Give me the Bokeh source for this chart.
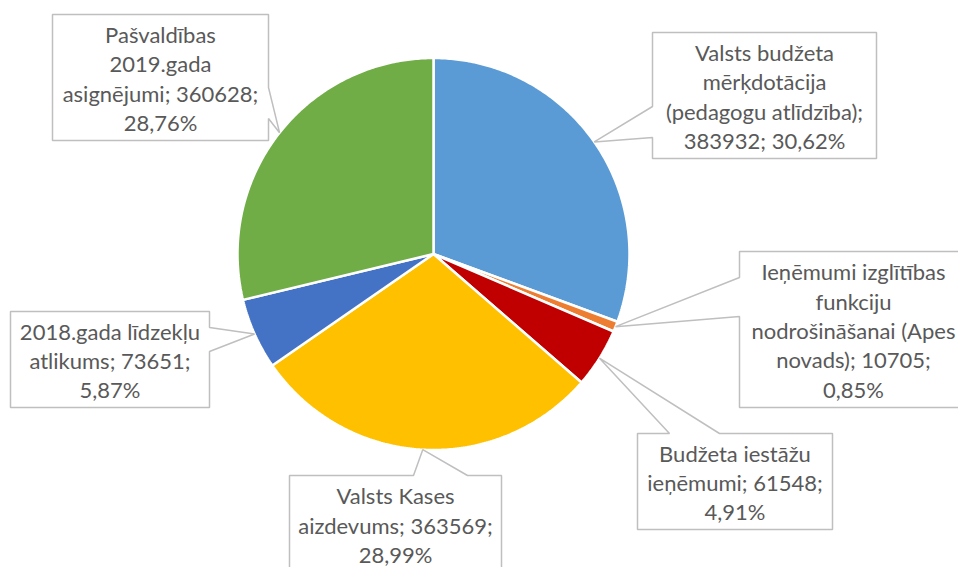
import numpy as np
from bokeh.plotting import figure
from bokeh.models import Range1d
from bokeh.core.properties import value
from bokeh.embed import file_html
from bokeh.resources import INLINE

# ---- data ----
names = ["Valsts budžeta mērķdotācija (pedagogu atlīdzība)",
         "Ieņēmumi izglītības funkciju nodrošināšanai (Apes novads)",
         "Budžeta iestāžu ieņēmumi",
         "Valsts Kases aizdevums",
         "2018.gada līdzekļu atlikums",
         "Pašvaldības 2019.gada asignējumi"]
values = [383932, 10705, 61548, 363569, 73651, 360628]
percents = ["30,62%", "0,85%", "4,91%", "28,99%", "5,87%", "28,76%"]
colors = ["#5B9BD5", "#ED7D31", "#C00000", "#FFC000", "#4472C4", "#70AD47"]
label_lines = [
    ["Valsts budžeta", "mērķdotācija", "(pedagogu atlīdzība);", "383932; 30,62%"],
    ["Ieņēmumi izglītības", "funkciju", "nodrošināšanai (Apes", "novads); 10705;", "0,85%"],
    ["Budžeta iestāžu", "ieņēmumi; 61548;", "4,91%"],
    ["Valsts Kases", "aizdevums; 363569;", "28,99%"],
    ["2018.gada līdzekļu", "atlikums; 73651;", "5,87%"],
    ["Pašvaldības", "2019.gada", "asignējumi; 360628;", "28,76%"],
]

# ---- layout (reference pixel coordinates) ----
CX, CY, R = 433.0, 253.5, 196.0
# box x0, y0, x1, y1, pointer side, base a, base b
boxes = [
    (652, 32, 876, 158, "left", 106, 137),
    (739, 251, 967, 407, "left", 277, 316),
    (637, 433, 832, 529, "top", 669, 719),
    (289, 475, 501, 572, "top", 413, 467),
    (10, 311, 209, 407, "right", 327, 351),
    (52, 14, 268, 140, "right", 87, 118),
]
LINE_H = 29.3

p = figure(width=958, height=567, output_backend="svg", toolbar_location=None,
           x_range=Range1d(0, 958), y_range=Range1d(567, 0), min_border=0)
p.axis.visible = False
p.grid.visible = False
p.outline_line_color = None
p.background_fill_color = "white"
p.border_fill_color = "white"

vals = np.array(values, dtype=float)
frac = vals / vals.sum()
ends = np.cumsum(frac) * 2 * np.pi
starts = ends - frac * 2 * np.pi
mids = (starts + ends) / 2

xs, ys = [], []
for s, e in zip(starts, ends):
    th = np.linspace(s, e, max(4, int((e - s) / 0.01)))
    xs.append([CX] + list(CX + R * np.sin(th)))
    ys.append([CY] + list(CY - R * np.cos(th)))
p.patches(xs, ys, fill_color=colors, line_color="white", line_width=2.5)

# callouts
cxs, cys = [], []
tx, ty, tt = [], [], []
for (x0, y0, x1, y1, side, a, b), m, lines in zip(boxes, mids, label_lines):
    tipx = CX + R * np.sin(m)
    tipy = CY - R * np.cos(m)
    if side == "left":
        pts = [(x0, y0), (x1, y0), (x1, y1), (x0, y1), (x0, b), (tipx, tipy), (x0, a)]
    elif side == "right":
        pts = [(x0, y0), (x1, y0), (x1, a), (tipx, tipy), (x1, b), (x1, y1), (x0, y1)]
    else:
        pts = [(x0, y0), (a, y0), (tipx, tipy), (b, y0), (x1, y0), (x1, y1), (x0, y1)]
    cxs.append([q[0] for q in pts])
    cys.append([q[1] for q in pts])
    n = len(lines)
    mx = (x0 + x1) / 2
    my = (y0 + y1) / 2 + 1
    for i, ln in enumerate(lines):
        tx.append(mx)
        ty.append(my + (i - (n - 1) / 2) * LINE_H)
        tt.append(ln)

p.patches(cxs, cys, fill_color="white", line_color="#BFBFBF", line_width=1.5)
p.text(x=tx, y=ty, text=tt, text_font=value("Lato"), text_font_size="22px",
       text_color="#595959", text_align="center", text_baseline="middle")

open("out.html", "w").write(file_html(p, INLINE))
